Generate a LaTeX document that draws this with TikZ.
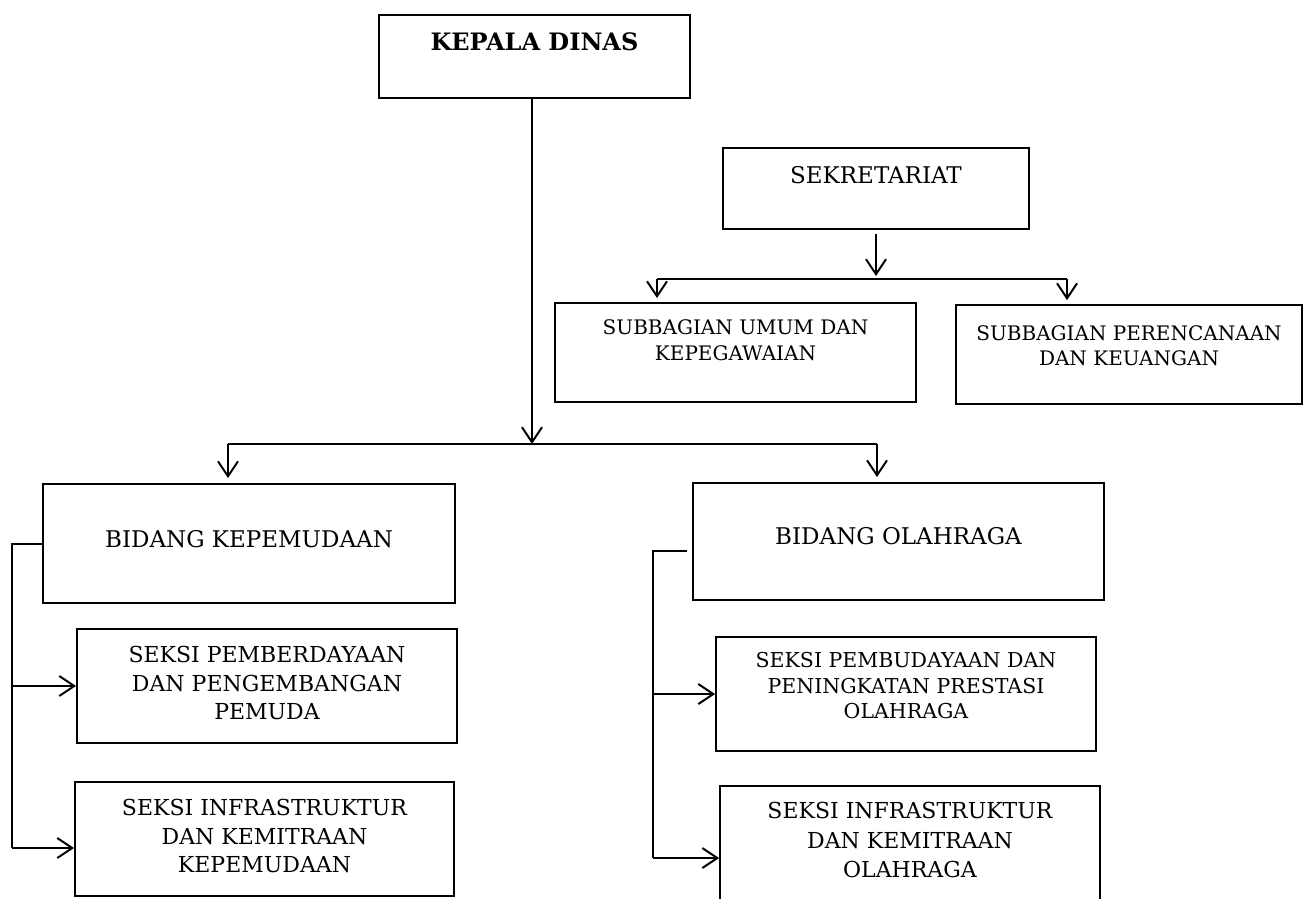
\documentclass[tikz,border=0pt]{standalone}
\usepackage{fontspec}
\setmainfont{DejaVu Serif}
\usetikzlibrary{positioning,arrows.meta}

\tikzstyle{box} = [draw, rectangle, line width=1.8pt, inner sep=0pt]
\tikzstyle{txt} = [align=center, inner sep=0pt]
\tikzstyle{wire} = [line width=2pt]
\tikzstyle{arr} = [line width=2pt, -{Straight Barb[length=15pt,width=20pt]}]

\begin{document}
\begin{tikzpicture}[x=1pt, y=-1pt]
\clip (0,0) rectangle (1307,898);

% boxes
\node[box, minimum width=311pt, minimum height=83pt] (kepala) at (534.5,56.5) {};
\node[box, minimum width=306pt, minimum height=81pt] (sek) at (876,188.5) {};
\node[box, minimum width=361pt, minimum height=99pt] (sub1) at (735.5,352.5) {};
\node[box, minimum width=346pt, minimum height=99pt] (sub2) at (1129,354.5) {};
\node[box, minimum width=412pt, minimum height=119pt] (bk) at (249,543.5) {};
\node[box, minimum width=411pt, minimum height=117pt] (bo) at (898.5,541.5) {};
\node[box, minimum width=380pt, minimum height=114pt] (sp1) at (267,686) {};
\node[box, minimum width=379pt, minimum height=114pt] (si1) at (264.5,839) {};
\node[box, minimum width=380pt, minimum height=114pt] (sp2) at (906,694) {};
\node[box, minimum width=380pt, minimum height=130pt] (si2) at (910,851) {};

% texts
\node[txt, below=18pt of kepala.north, font=\fontsize{24}{29}\selectfont\bfseries] (kepala-t) {KEPALA DINAS};
\node[txt, below=19pt of sek.north, font=\fontsize{23}{28}\selectfont] (sek-t) {SEKRETARIAT};
\node[txt, below=17pt of sub1.north, font=\fontsize{20}{26}\selectfont] (sub1-t) {SUBBAGIAN UMUM DAN\\KEPEGAWAIAN};
\node[txt, below=21pt of sub2.north, font=\fontsize{20}{25}\selectfont] (sub2-t) {SUBBAGIAN PERENCANAAN\\DAN KEUANGAN};
\node[txt, below=47pt of bk.north, font=\fontsize{23}{28}\selectfont] (bk-t) {BIDANG KEPEMUDAAN};
\node[txt, below=45pt of bo.north, font=\fontsize{23}{28}\selectfont] (bo-t) {BIDANG OLAHRAGA};
\node[txt, below=18pt of sp1.north, font=\fontsize{22}{28.5}\selectfont] (sp1-t) {SEKSI PEMBERDAYAAN\\DAN PENGEMBANGAN\\PEMUDA};
\node[txt, below=18pt of si1.north, font=\fontsize{22}{28.5}\selectfont] (si1-t) {SEKSI INFRASTRUKTUR\\DAN KEMITRAAN\\KEPEMUDAAN};
\node[txt, below=16pt of sp2.north, font=\fontsize{20.5}{25.5}\selectfont] (sp2-t) {SEKSI PEMBUDAYAAN DAN\\PENINGKATAN PRESTASI\\OLAHRAGA};
\node[txt, below=17pt of si2.north, font=\fontsize{22}{29.5}\selectfont] (si2-t) {SEKSI INFRASTRUKTUR\\DAN KEMITRAAN\\OLAHRAGA};

% junction points
\coordinate (hub) at (532,444);
\coordinate (hubL) at (228,444);
\coordinate (hubR) at (877,444);
\coordinate (sekhub) at (876,279);
\coordinate (sekL) at (657,279);
\coordinate (sekR) at (1067,279);
\coordinate (bkdown) at (12,543.5);
\coordinate (bkend) at (12,848);
\coordinate (bodown) at (653,551);
\coordinate (boend) at (653,858);

% connectors
\draw[arr] (kepala.south -| hub) -- (hub);
\draw[wire] (hubL) -- (hubR);
\draw[arr, shorten >=5pt] (hubL) -- (hubL |- bk.north);
\draw[arr, shorten >=5pt] (hubR) -- (hubR |- bo.north);

\draw[arr, shorten <=4pt, shorten >=3pt] (sek.south -| sekhub) -- (sekhub);
\draw[wire] (sekL) -- (sekR);
\draw[arr, shorten >=4pt] (sekL) -- (sekL |- sub1.north);
\draw[arr, shorten >=4pt] (sekR) -- (sekR |- sub2.north);

\draw[wire] (bk.west) -- (bkdown) -- (bkend);
\draw[arr] (bkend) -- (bkend -| si1.west);
\draw[arr] (bkdown |- sp1.west) -- (sp1.west);

\draw[wire, shorten <=5pt] (bo.west |- bodown) -- (bodown) -- (boend);
\draw[arr] (boend) -- (boend -| si2.west);
\draw[arr] (bodown |- sp2.west) -- (sp2.west);
\end{tikzpicture}
\end{document}
